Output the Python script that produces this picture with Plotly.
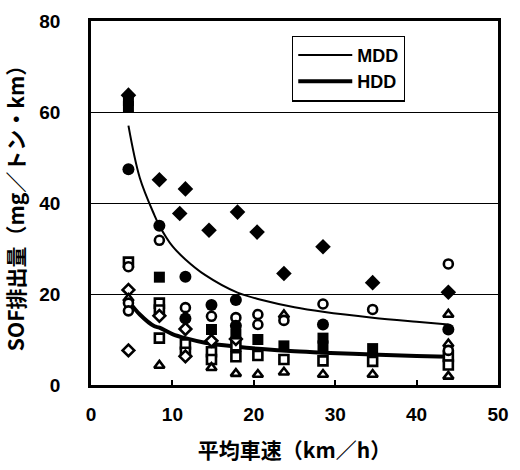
import plotly.graph_objects as go

# ---- data ----
# fitted curves
curve_x = [4.6, 6.0, 7.8, 8.4, 10.0, 11.6, 14.0, 18.0, 21.0, 25.0, 28.5, 34.6, 40.0, 43.9]
mdd_y = [57.0, 45.5, 37.3, 35.0, 30.5, 27.6, 24.2, 20.3, 18.7, 17.1, 16.1, 14.8, 13.9, 13.3]
hdd_y = [18.5, 15.5, 12.9, 12.6, 11.2, 10.3, 9.3, 8.4, 7.9, 7.4, 7.1, 6.7, 6.4, 6.2]

# filled diamonds
fd_x = [4.6, 8.4, 11.6, 10.9, 14.5, 18.0, 20.4, 23.7, 28.5, 34.6, 43.9]
fd_y = [63.7, 45.1, 43.1, 37.7, 34.0, 38.0, 33.6, 24.5, 30.4, 22.5, 20.4]
# filled circles
fc_x = [4.6, 8.4, 11.6, 11.6, 14.8, 17.8, 17.8, 28.5, 43.9]
fc_y = [47.4, 35.0, 23.8, 14.6, 17.6, 18.7, 13.0, 13.3, 12.2]
# filled squares
fs_x = [4.6, 4.6, 8.4, 14.8, 17.8, 20.5, 23.7, 28.5, 28.5, 34.6]
fs_y = [62.5, 61.2, 23.7, 12.2, 11.2, 10.0, 8.6, 10.3, 8.6, 8.0]
# open circles
oc_x = [4.6, 4.6, 4.6, 8.4, 11.6, 14.8, 17.8, 20.5, 20.5, 23.7, 28.5, 34.6, 43.9, 43.9]
oc_y = [26.0, 18.0, 16.3, 31.8, 17.0, 15.1, 14.8, 15.5, 13.3, 14.2, 17.8, 16.6, 26.6, 7.6]
# open squares
os_x = [4.6, 8.4, 8.4, 8.4, 11.6, 11.6, 14.8, 14.8, 17.8, 17.8, 20.5, 23.7, 28.5, 34.6, 43.9, 43.9]
os_y = [27.0, 18.0, 16.5, 10.3, 9.0, 7.2, 7.3, 5.6, 8.6, 6.2, 6.5, 5.6, 5.3, 5.2, 6.3, 4.4]
# open diamonds
odm_x = [4.6, 4.6, 8.4, 11.6, 11.6, 14.8, 17.8]
odm_y = [20.9, 7.6, 15.2, 12.3, 6.3, 9.7, 10.1]
# open triangles
ot_x = [4.6, 8.4, 14.8, 17.8, 20.5, 23.7, 23.7, 28.5, 34.6, 43.9, 43.9, 43.9]
ot_y = [19.0, 4.3, 3.8, 2.5, 2.3, 15.4, 2.8, 2.3, 2.3, 15.5, 9.0, 1.9]

x_ticks = [0, 10, 20, 30, 40, 50]
y_ticks = [0, 20, 40, 60, 80]

fig = go.Figure()

fig.add_trace(go.Scatter(x=curve_x, y=mdd_y, mode="lines", name="MDD",
                         line=dict(color="black", width=2, shape="spline"),
                         legendgroup="a"))
fig.add_trace(go.Scatter(x=curve_x, y=hdd_y, mode="lines", name="HDD",
                         line=dict(color="black", width=4, shape="spline"),
                         legendgroup="b"))

def add_markers(xs, ys, symbol, size, filled):
    if filled:
        m = dict(symbol=symbol, size=size, color="black", line=dict(width=0))
    else:
        m = dict(symbol=symbol, size=size, color="white", line=dict(width=2.6, color="black"))
    fig.add_trace(go.Scatter(x=xs, y=ys, mode="markers", marker=m,
                             showlegend=False, hoverinfo="x+y"))

add_markers(os_x, os_y, "square", 9, False)
add_markers(odm_x, odm_y, "diamond", 9, False)
add_markers(ot_x, ot_y, "triangle-up", 9, False)
add_markers(oc_x, oc_y, "circle", 9, False)
add_markers(fs_x, fs_y, "square", 11, True)
add_markers(fc_x, fc_y, "circle", 12, True)
add_markers(fd_x, fd_y, "diamond", 12, True)

tick_font = dict(family="Liberation Sans, Arial, sans-serif", size=19, color="black", weight="bold")
title_font = dict(family="Noto Sans CJK JP, sans-serif", size=21, color="black", weight="bold")

fig.update_layout(
    width=520, height=470,
    margin=dict(l=91, r=11, t=16, b=83),
    paper_bgcolor="white", plot_bgcolor="white",
    showlegend=True,
    legend=dict(x=0.494, y=0.96, xanchor="left", yanchor="top",
                bordercolor="black", borderwidth=1.2, bgcolor="white",
                font=dict(family="Liberation Sans, Arial, sans-serif", size=18,
                          color="black", weight="bold"),
                tracegroupgap=0, itemwidth=54),
    xaxis=dict(range=[0, 50], tickvals=x_ticks, ticktext=[str(v) for v in x_ticks],
               showgrid=False, zeroline=False,
               showline=True, mirror=True, linecolor="black", linewidth=2.5,
               ticks="inside", ticklen=5, tickcolor="black", tickwidth=1.5,
               tickfont=tick_font, ticklabelstandoff=10,
               title=dict(text="平均車速（km／h）", font=title_font, standoff=20)),
    yaxis=dict(range=[0, 80], tickvals=y_ticks, ticktext=[str(v) for v in y_ticks],
               showgrid=True, gridcolor="black", gridwidth=1.2, zeroline=False,
               showline=True, mirror=True, linecolor="black", linewidth=2.5,
               ticks="", tickfont=tick_font, ticklabelstandoff=24,
               title=dict(text="SOF排出量（mg／トン・km）", font=title_font, standoff=14)),
)

fig.write_html("out.html", config={"displayModeBar": False},
               post_script="document.body.style.margin='0px';")
